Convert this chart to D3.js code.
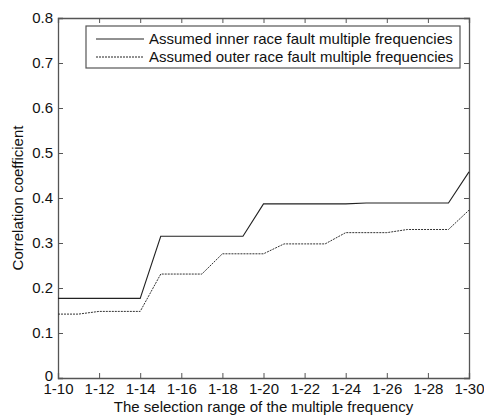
<!DOCTYPE html>
<html>
<head>
<meta charset="utf-8">
<script src="https://cdn.jsdelivr.net/npm/d3@7"></script>
<style>
  body { margin: 0; background: #fff; }
  text { font-family: "Liberation Sans", Arial, sans-serif; fill: #111; }
</style>
</head>
<body>
<div id="chart"></div>
<script>
// range end n of "1-n"
const rangeEnds = d3.range(10, 31);
const xTickEnds = [10, 12, 14, 16, 18, 20, 22, 24, 26, 28, 30];
const yTicks = [0, 0.1, 0.2, 0.3, 0.4, 0.5, 0.6, 0.7, 0.8];

const innerValues = [0.177, 0.177, 0.177, 0.177, 0.177, 0.315, 0.315, 0.315, 0.315, 0.315,
  0.387, 0.387, 0.387, 0.387, 0.387, 0.389, 0.389, 0.389, 0.389, 0.389, 0.458];
const outerValues = [0.142, 0.142, 0.148, 0.148, 0.148, 0.231, 0.231, 0.231, 0.276, 0.276,
  0.276, 0.298, 0.298, 0.298, 0.323, 0.323, 0.323, 0.330, 0.330, 0.330, 0.373];

const seriesNames = ['Assumed inner race fault multiple frequencies', 'Assumed outer race fault multiple frequencies'];

const width = 484, height = 417;
const margin = {top: 18, right: 15, bottom: 39, left: 58};
const w = width - margin.left - margin.right;
const h = height - margin.top - margin.bottom;

const svg = d3.select('#chart').append('svg')
    .attr('width', width)
    .attr('height', height);

const g = svg.append('g')
    .attr('transform', `translate(${margin.left},${margin.top})`);

const x = d3.scaleLinear().domain([10, 30]).range([0, w]);
const y = d3.scaleLinear().domain([0, 0.8]).range([h, 0]);

const axisColor = '#555';
const tickLen = 5;

// bottom axis
const xAxis = g.append('g')
    .attr('transform', `translate(0,${h})`)
    .call(d3.axisBottom(x).tickValues(xTickEnds).tickSize(-tickLen).tickPadding(8)
      .tickFormat(d => '1-' + d));
// top axis (ticks only)
const xTop = g.append('g')
    .call(d3.axisTop(x).tickValues(xTickEnds).tickSize(-tickLen).tickFormat(''));
// left axis
const yAxis = g.append('g')
    .call(d3.axisLeft(y).tickValues(yTicks).tickSize(-tickLen).tickPadding(10)
      .tickFormat(d => d === 0 ? '0' : d3.format('.1f')(d)));
// right axis (ticks only)
const yRight = g.append('g')
    .attr('transform', `translate(${w},0)`)
    .call(d3.axisRight(y).tickValues(yTicks).tickSize(-tickLen).tickFormat(''));

[xAxis, xTop, yAxis, yRight].forEach(a => {
  a.select('.domain').attr('stroke', axisColor).attr('stroke-width', 1.3);
  a.selectAll('.tick line').attr('stroke', axisColor);
  a.selectAll('.tick text').style('font-size', '15px').attr('fill', '#111');
});
xAxis.selectAll('.tick text').attr('dy', '0.55em');
yAxis.selectAll('.tick text').attr('dx', '5');
yAxis.selectAll('.tick text').filter(d => d === 0).attr('dy', '0.15em');

// lines
const line = d3.line()
    .x((d, i) => x(rangeEnds[i]))
    .y(d => y(d));

g.append('path')
    .datum(innerValues)
    .attr('fill', 'none')
    .attr('stroke', '#222')
    .attr('stroke-width', 1.1)
    .attr('d', line);

g.append('path')
    .datum(outerValues)
    .attr('fill', 'none')
    .attr('stroke', '#333')
    .attr('stroke-width', 1)
    .attr('stroke-dasharray', '2,1')
    .attr('d', line);

// legend
const legend = g.append('g')
    .attr('transform', `translate(${86 - margin.left},${26 - margin.top})`);

legend.append('rect')
    .attr('width', 374)
    .attr('height', 42)
    .attr('fill', '#fff')
    .attr('stroke', axisColor)
    .attr('stroke-width', 1.2);

seriesNames.forEach((name, i) => {
  const yy = 13 + i * 18;
  legend.append('line')
      .attr('x1', 10).attr('x2', 58)
      .attr('y1', yy).attr('y2', yy)
      .attr('stroke', '#222')
      .attr('stroke-width', 1)
      .attr('stroke-dasharray', i === 1 ? '2,1' : null);
  legend.append('text')
      .attr('x', 63)
      .attr('y', yy)
      .attr('dy', '0.35em')
      .style('font-size', '15px')
      .text(name);
});

// axis titles
svg.append('text')
    .attr('x', margin.left + w / 2)
    .attr('y', 412)
    .attr('text-anchor', 'middle')
    .style('font-size', '15px')
    .text('The selection range of the multiple frequency');

svg.append('text')
    .attr('transform', `translate(23,${margin.top + h / 2}) rotate(-90)`)
    .attr('text-anchor', 'middle')
    .style('font-size', '15px')
    .text('Correlation coefficient');
</script>
</body>
</html>
